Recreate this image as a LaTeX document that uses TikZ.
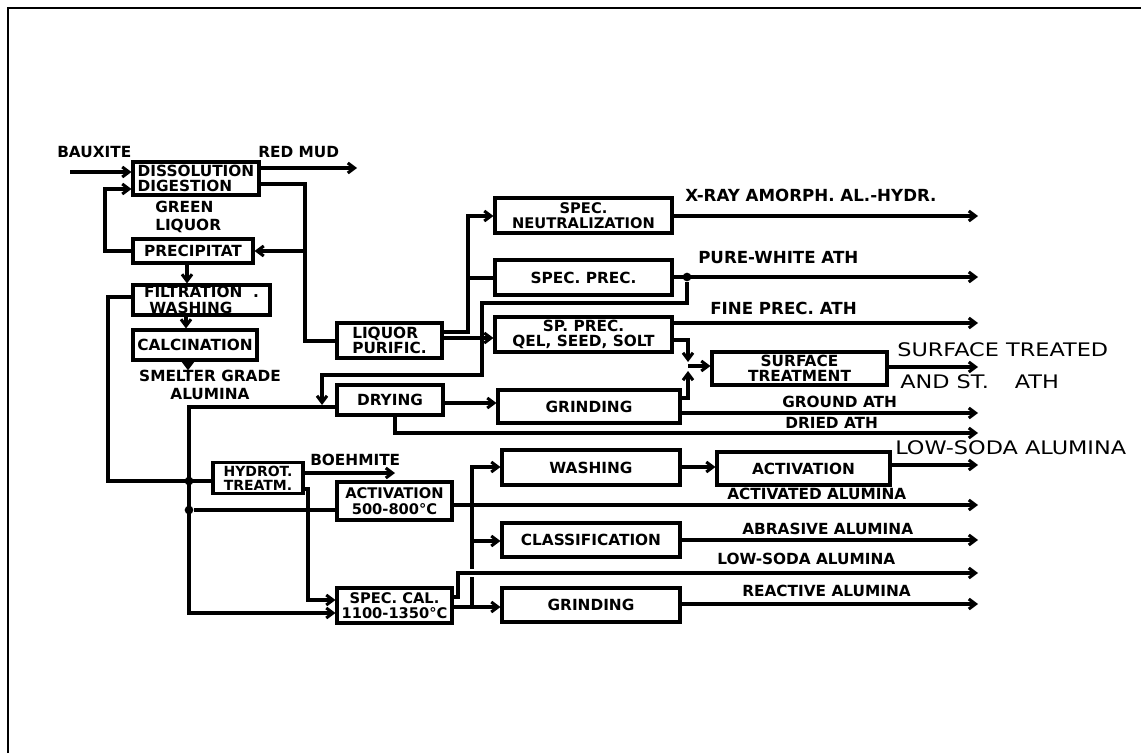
\documentclass[tikz,border=0pt]{standalone}
\usepackage{fontspec}
\setmainfont{DejaVu Sans}
\newfontfamily\widefont[FakeStretch=1.2]{DejaVu Sans}
\usetikzlibrary{arrows.meta}
\begin{document}
\begin{tikzpicture}[x=0.75pt,y=-0.75pt,
  ln/.style={line width=2.3pt},
  arr/.style={ln,-{Straight Barb[length=5pt,width=7.5pt]}},
  pbox/.style 2 args={draw,line width=2.3pt,minimum width=#1*0.75pt,minimum height=#2*0.75pt,inner sep=0pt,align=center,font=\fontsize{11.5}{11.5}\selectfont\bfseries},
  lbl/.style={anchor=west,inner sep=0pt,font=\fontsize{11.5}{13}\selectfont\bfseries},
  lblb/.style={anchor=west,inner sep=0pt,font=\fontsize{12.5}{13}\selectfont\bfseries},
  big/.style={anchor=west,inner sep=0pt,font=\fontsize{14}{15}\selectfont\widefont},
  jdot/.style={circle,fill,inner sep=0pt,minimum size=6.5pt}]
\useasboundingbox (0,0) rectangle (1141,753);
\draw[line width=1.8pt] (8,753) -- (8,8) -- (1141,8);
% boxes
\node[pbox={126}{33},align=left] (dis) at (196,178.5) {DISSOLUTION\\DIGESTION};
\node[pbox={120}{24}] (prec) at (193,251) {PRECIPITAT};
\node[pbox={137}{30},align=left] (filt) at (201.5,300) {FILTRATION~~.\\~WASHING};
\node[pbox={124}{30}] (calc) at (195,345) {CALCINATION};
\node[pbox={105}{35},align=left] (liq) at (389.5,340.5) {LIQUOR\\PURIFIC.};
\node[pbox={177}{35},font=\fontsize{11}{11}\selectfont\bfseries] (neut) at (583.5,215.5) {SPEC.\\NEUTRALIZATION};
\node[pbox={177}{35}] (sprec) at (583.5,277.5) {SPEC. PREC.};
\node[pbox={177}{35}] (spgel) at (583.5,334.5) {SP. PREC.\\QEL, SEED, SOLT};
\node[pbox={175}{33}] (surf) at (799.5,368.5) {SURFACE\\TREATMENT};
\node[pbox={106}{30}] (dry) at (390,400) {DRYING};
\node[pbox={182}{33}] (grindA) at (589,406.5) {GRINDING};
\node[pbox={90}{31},font=\fontsize{10.5}{10.5}\selectfont\bfseries] (hyd) at (258,478) {HYDROT.\\TREATM.};
\node[pbox={115}{38},font=\fontsize{11}{11.5}\selectfont\bfseries] (actA) at (394.5,501) {ACTIVATION\\500-800°C};
\node[pbox={178}{35}] (wash) at (591,467.5) {WASHING};
\node[pbox={173}{33}] (actB) at (803.5,468.5) {ACTIVATION};
\node[pbox={178}{34}] (class) at (591,540) {CLASSIFICATION};
\node[pbox={115}{35},font=\fontsize{11}{11.5}\selectfont\bfseries] (scal) at (394.5,605.5) {SPEC. CAL.\\1100-1350°C};
\node[pbox={178}{34}] (grindB) at (591,605) {GRINDING};
% labels
\node[lbl] (lbx) at (57,152) {BAUXITE};
\node[lbl] (lrm) at (258,152) {RED MUD};
\node[lbl,align=left] (lgl) at (155,217) {GREEN\\LIQUOR};
\node[lbl,align=center,anchor=center] (smelt) at (210,385) {SMELTER GRADE\\ALUMINA};
\node[lbl] (lbo) at (310,460) {BOEHMITE};
\node[lblb] (lx) at (685,195) {X-RAY AMORPH. AL.-HYDR.};
\node[lblb] (lpw) at (698,258) {PURE-WHITE ATH};
\node[lblb] (lfp) at (710,308) {FINE PREC. ATH};
\node[big] (lst1) at (897,350) {SURFACE TREATED};
\node[big] (lst2) at (900,382) {AND ST.\quad\ ATH};
\node[lbl] (lga) at (782,402) {GROUND ATH};
\node[lbl] (lda) at (785,423) {DRIED ATH};
\node[big] (lls1) at (895,448) {LOW-SODA ALUMINA};
\node[lbl] (laa) at (727,494) {ACTIVATED ALUMINA};
\node[lbl] (lab) at (742,529) {ABRASIVE ALUMINA};
\node[lbl] (lls2) at (717,559) {LOW-SODA ALUMINA};
\node[lbl] (lra) at (742,591) {REACTIVE ALUMINA};
% connectors
\coordinate (bxs) at (70,172);
\draw[arr] (bxs) -- (dis.west |- bxs);
\coordinate (rme) at (357,168);
\draw[arr] (dis.east |- rme) -- (rme);
\coordinate (k1) at (305,184); \coordinate (k2) at (305,341);
\draw[ln] (dis.east |- k1) -- (k1) -- (k2) -- (liq.west |- k2);
\coordinate (k3) at (305,251);
\draw[arr] (k3) -- (prec.east |- k3);
\coordinate (g1) at (105,251); \coordinate (g2) at (105,189);
\draw[arr] (prec.west |- g1) -- (g1) -- (g2) -- (dis.west |- g2);
\draw[arr] (prec.south -| 187,0) -- (filt.north -| 187,0);
\draw[arr] (filt.south -| 186,0) -- (calc.north -| 186,0);
\draw[arr] (calc.south -| 188,0) -- (smelt.north -| 188,0);
\coordinate (f1) at (108,297); \coordinate (f2) at (108,481);
\draw[ln] (filt.west |- f1) -- (f1) -- (f2) -- (hyd.west |- f2);
\coordinate (b1) at (189,407); \coordinate (b2) at (189,613);
\draw[arr] (dry.west |- b1) -- (b1) -- (b2) -- (scal.west |- b2);
\node[jdot] (jd1) at (189,481) {};
\node[jdot] (jd2) at (189,510) {};
\draw[ln] (jd2) -- (actA.west |- jd2);
\coordinate (bo) at (395,473);
\draw[arr] (hyd.east |- bo) -- (bo);
\coordinate (h1) at (308,489); \coordinate (h2) at (308,600);
\draw[arr] (hyd.east |- h1) -- (h1) -- (h2) -- (scal.west |- h2);
\coordinate (pe) at (978,277);
\draw[arr] (sprec.east |- pe) -- (pe);
\node[jdot] (jd3) at (687,277) {};
\coordinate (s1) at (687,303); \coordinate (s2) at (482,303); \coordinate (s3) at (482,375); \coordinate (s4) at (322,375); \coordinate (s5) at (322,405);
\draw[arr] (jd3) -- (s1) -- (s2) -- (s3) -- (s4) -- (s5);
\coordinate (l1) at (468,332); \coordinate (l2) at (468,216);
\draw[arr] (liq.east |- l1) -- (l1) -- (l2) -- (neut.west |- l2);
\coordinate (l3) at (468,278);
\draw[ln] (l3) -- (sprec.west |- l3);
\coordinate (l4) at (442,338);
\draw[arr] (liq.east |- l4) -- (spgel.west |- l4);
\coordinate (xe) at (978,216); \draw[arr] (neut.east |- xe) -- (xe);
\coordinate (fe) at (978,323); \draw[arr] (spgel.east |- fe) -- (fe);
\coordinate (t1) at (688,340); \coordinate (t2) at (688,362);
\draw[arr] (spgel.east |- t1) -- (t1) -- (t2);
\coordinate (t3) at (688,398); \coordinate (t4) at (688,371);
\draw[arr] (grindA.east |- t3) -- (t3) -- (t4);
\coordinate (t5) at (688,366);
\draw[arr] (t5) -- (surf.west |- t5);
\coordinate (se) at (978,367); \draw[arr] (surf.east |- se) -- (se);
\coordinate (dg) at (443,403); \draw[arr] (dry.east |- dg) -- (grindA.west |- dg);
\coordinate (ge) at (978,413); \draw[arr] (grindA.east |- ge) -- (ge);
\coordinate (d1) at (395,433); \coordinate (de) at (978,433);
\draw[arr] (dry.south -| d1) -- (d1) -- (de);
\coordinate (ae) at (978,505); \draw[arr] (actA.east |- ae) -- (ae);
\coordinate (w0) at (472,505); \coordinate (w1) at (472,467);
\draw[arr] (w0) -- (w1) -- (wash.west |- w1);
\coordinate (w2) at (472,569); \draw[ln] (w0) -- (w2);
\coordinate (w3) at (472,541); \draw[arr] (w3) -- (class.west |- w3);
\coordinate (w4) at (680,467);
\draw[arr] (wash.east |- w4) -- (actB.west |- w4);
\coordinate (le) at (978,465); \draw[arr] (actB.east |- le) -- (le);
\coordinate (ce) at (978,540); \draw[arr] (class.east |- ce) -- (ce);
\coordinate (c1) at (458,597); \coordinate (c2) at (458,573); \coordinate (ce2) at (978,573);
\draw[arr] (scal.east |- c1) -- (c1) -- (c2) -- (ce2);
\coordinate (c3) at (472,607); \coordinate (c4) at (472,577);
\draw[ln] (c4) -- (c3);
\draw[arr] (scal.east |- c3) -- (grindB.west |- c3);
\coordinate (re) at (978,604); \draw[arr] (grindB.east |- re) -- (re);
\end{tikzpicture}
\end{document}
